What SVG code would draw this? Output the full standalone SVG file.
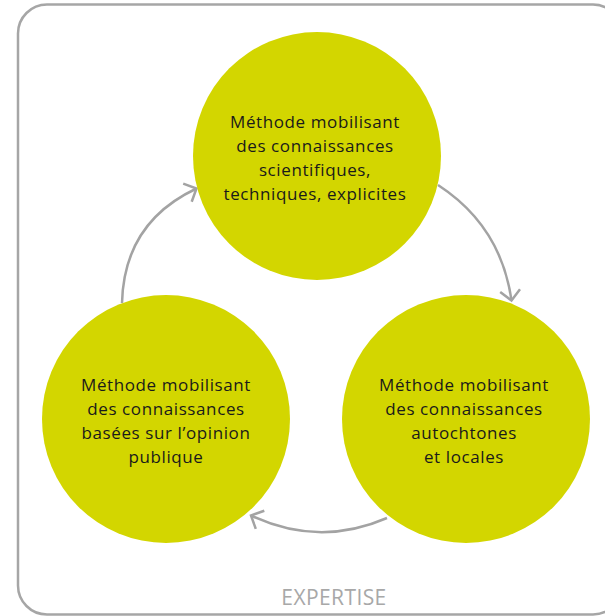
<svg xmlns="http://www.w3.org/2000/svg" width="605" height="616" viewBox="0 0 605 616">
<style>
.frame{fill:none;stroke:#a6a6a6;stroke-width:2.5}
.node{fill:#d3d600}
.lbl{font-family:"Open Sans","Liberation Sans",sans-serif;font-size:17px;letter-spacing:0.6px;fill:#1a1a1a;text-anchor:middle}
.title{font-family:"Open Sans","Liberation Sans",sans-serif;font-size:21px;letter-spacing:0.4px;fill:#a8a8a8;text-anchor:middle}
.conn{fill:none;stroke:#a3a3a3;stroke-width:2.5}
</style>
<defs>
<marker id="arr" markerUnits="userSpaceOnUse" markerWidth="30" markerHeight="30" viewBox="-15 -15 30 30" refX="0" refY="0" orient="auto">
<path d="M-10,-10 L0,0 L-10,10" fill="none" stroke="#a3a3a3" stroke-width="2.5"/>
</marker>
</defs>
<rect class="frame" x="18" y="4.5" width="604" height="610" rx="29" ry="29"/>
<g id="connectors">
<path class="conn" d="M438,185 Q501,226 511.5,300.5" marker-end="url(#arr)"/>
<path class="conn" d="M387,518 Q319,547.5 251,515.5" marker-end="url(#arr)"/>
<path class="conn" d="M122,303 Q124,222.5 196.5,188.5" marker-end="url(#arr)"/>
</g>
<g id="node-top">
<circle class="node" cx="317" cy="156" r="124"/>
<text class="lbl" x="315" y="128">Méthode mobilisant</text>
<text class="lbl" x="315" y="152">des connaissances</text>
<text class="lbl" x="315" y="176">scientifiques,</text>
<text class="lbl" x="315" y="200">techniques, explicites</text>
</g>
<g id="node-left">
<circle class="node" cx="166" cy="419" r="124"/>
<text class="lbl" x="166" y="391">Méthode mobilisant</text>
<text class="lbl" x="166" y="415">des connaissances</text>
<text class="lbl" x="166" y="439">basées sur l’opinion</text>
<text class="lbl" x="166" y="463">publique</text>
</g>
<g id="node-right">
<circle class="node" cx="466" cy="419" r="124"/>
<text class="lbl" x="464" y="391">Méthode mobilisant</text>
<text class="lbl" x="464" y="415">des connaissances</text>
<text class="lbl" x="464" y="439">autochtones</text>
<text class="lbl" x="464" y="463">et locales</text>
</g>
<text class="title" x="334" y="605">EXPERTISE</text>
</svg>
